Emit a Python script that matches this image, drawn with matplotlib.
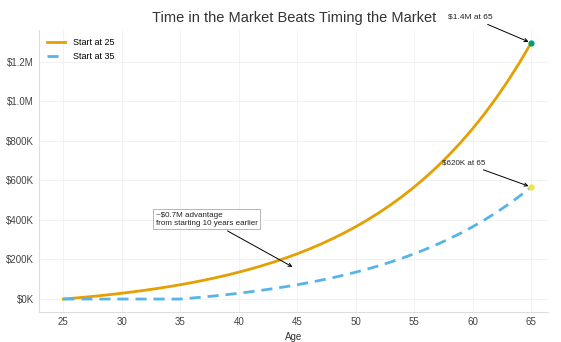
import matplotlib
matplotlib.use("Agg")
import matplotlib.pyplot as plt
from matplotlib.ticker import FuncFormatter

plt.rcParams['font.family'] = ['Liberation Sans', 'DejaVu Sans']

# portfolio value by age
ages = list(range(25, 66))
start_25 = [0, 5000, 10400, 16200, 22500, 29300, 36700, 44600, 53200, 62400,
            72400, 83200, 94900, 107500, 121100, 135800, 151600, 168800, 187300,
            207200, 228800, 252100, 277300, 304500, 333800, 365500, 399800,
            436800, 476700, 519800, 566400, 616700, 671100, 729800, 793100,
            861600, 935500, 1015400, 1101600, 1194700, 1295300]
start_35 = [0] * 10 + [0, 5000, 10400, 16200, 22500, 29300, 36700, 44600, 53200,
                       62400, 72400, 83200, 94900, 107500, 121100, 135800, 151600,
                       168800, 187300, 207200, 228800, 252100, 277300, 304500,
                       333800, 365500, 399800, 436800, 476700, 519800, 566400]

orange = '#E69F00'
blue = '#56B4E9'

fig, ax = plt.subplots(figsize=(5.61, 3.42), dpi=100)
fig.subplots_adjust(left=0.07, right=0.977, top=0.912, bottom=0.088)

ax.plot(ages, start_25, color=orange, lw=2, label='Start at 25')
ax.plot(ages, start_35, color=blue, lw=2, ls=(0, (4, 2.5)), label='Start at 35')
ax.scatter([ages[-1]], [start_25[-1]], color='#009E73', s=12, zorder=5)
ax.scatter([ages[-1]], [start_35[-1]], color='#F0E442', s=12, zorder=5)

ax.annotate('$1.4M at 65', xy=(ages[-1], start_25[-1]), xytext=(59.8, 1426000),
            ha='center', va='center', fontsize=6, color='#222222',
            arrowprops=dict(arrowstyle='->', color='black', lw=0.7))
ax.annotate('$620K at 65', xy=(ages[-1], start_35[-1]), xytext=(59.2, 690000),
            ha='center', va='center', fontsize=5.8, color='#222222',
            arrowprops=dict(arrowstyle='->', color='black', lw=0.7))
ax.annotate('~$0.7M advantage\nfrom starting 10 years earlier', xy=(44.8, 156000),
            xytext=(32.9, 403000), ha='left', va='center', fontsize=5.8,
            color='#222222',
            bbox=dict(boxstyle='square,pad=0.3', fc='white', ec='#aaaaaa', lw=0.6),
            arrowprops=dict(arrowstyle='->', color='black', lw=0.7))

ax.set_xlim(22.95, 66.45)
ax.set_ylim(-65000, 1360000)
ax.set_xticks(range(25, 66, 5))
ax.set_yticks(range(0, 1200001, 200000))
ax.yaxis.set_major_formatter(FuncFormatter(
    lambda v, p: f'${v/1e6:.1f}M' if v >= 1e6 else f'${v/1e3:.0f}K'))

ax.grid(True, color='#f0f0f0', lw=0.6)
ax.set_axisbelow(True)
for s in ['top', 'right']:
    ax.spines[s].set_visible(False)
for s in ['left', 'bottom']:
    ax.spines[s].set_color('#dddddd')
ax.tick_params(length=0, labelsize=7, colors='#444444', pad=4)

ax.set_title('Time in the Market Beats Timing the Market', fontsize=10.5, color='#333333', pad=6)
ax.set_xlabel('Age', fontsize=7, color='#333333', labelpad=3)
ax.legend(loc='upper left', frameon=False, fontsize=6.5, handlelength=2.0)

fig.savefig('out.png', dpi=100)
